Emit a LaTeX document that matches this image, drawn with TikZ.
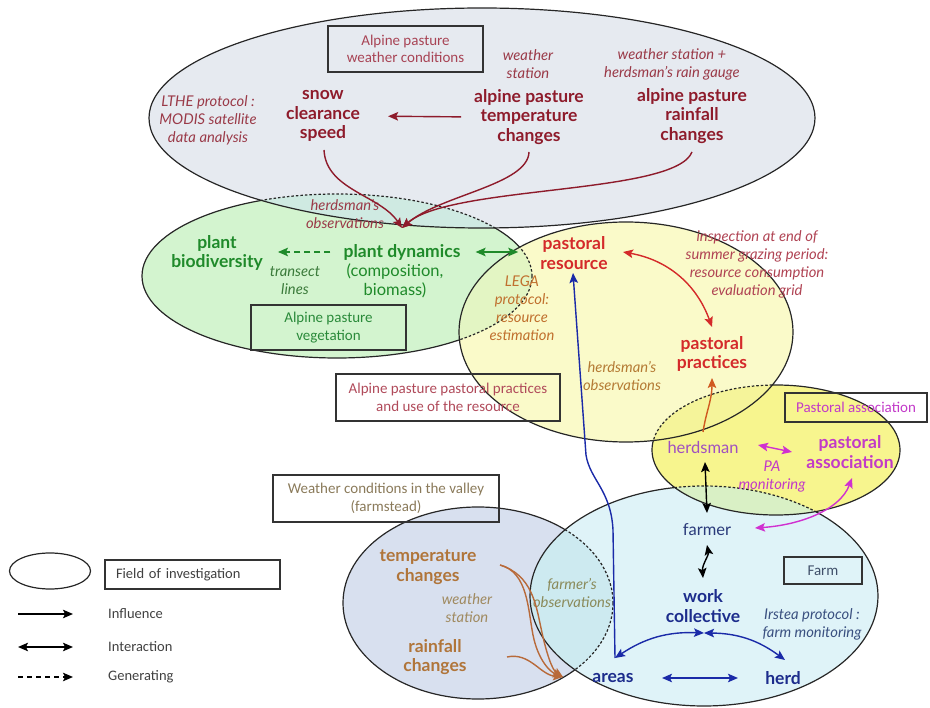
\documentclass[tikz,border=0pt]{standalone}
\usepackage{fontspec}
\setmainfont{Carlito}
\newfontfamily\lf{Lato}
\usetikzlibrary{arrows.meta,calc,shapes.geometric}
% fills
\definecolor{fGrey}{HTML}{E6EAF0}
\definecolor{fGreen}{HTML}{D3F4CF}
\definecolor{fYel}{HTML}{FAFAC9}
\definecolor{fPA}{HTML}{F7F58E}
\definecolor{fFarm}{HTML}{DFF3F8}
\definecolor{fVal}{HTML}{D8E0EF}
\definecolor{oGG}{HTML}{CFEAE2}
\definecolor{oYG}{HTML}{E3F5C3}
\definecolor{oYP}{HTML}{F5F49A}
\definecolor{oPF}{HTML}{D9F0C5}
\definecolor{oFV}{HTML}{CDEAF0}
\definecolor{oGY}{HTML}{ECEFD8}
% texts
\definecolor{cDR}{HTML}{8E1B2B}
\definecolor{cDRa}{HTML}{9A3A48}
\definecolor{cBoxR}{HTML}{A84455}
\definecolor{cG}{HTML}{1F8A2A}
\definecolor{cGa}{HTML}{3A7A3A}
\definecolor{cRR}{HTML}{D42A2A}
\definecolor{cO}{HTML}{C0702E}
\definecolor{cPk}{HTML}{B04454}
\definecolor{cO2}{HTML}{B47A34}
\definecolor{cM}{HTML}{C23AC8}
\definecolor{cMh}{HTML}{A050C0}
\definecolor{cB}{HTML}{1C2C8C}
\definecolor{cBf}{HTML}{2A3A7A}
\definecolor{cBa}{HTML}{3A5080}
\definecolor{cBar}{HTML}{1A2AA8}
\definecolor{cT}{HTML}{B0753A}
\definecolor{cTa}{HTML}{A08A60}
\definecolor{cFo}{HTML}{8A8A5A}
\definecolor{cBoxV}{HTML}{8A7A5A}
\definecolor{cBoxF}{HTML}{40506A}
\definecolor{cBoxG}{HTML}{2A8A3A}
\definecolor{cBoxP}{HTML}{B04A5A}
\definecolor{cArO}{HTML}{D05A20}
\definecolor{cArBr}{HTML}{B86A3A}
\definecolor{cArM}{HTML}{D030D0}
\definecolor{cLeg}{HTML}{404040}
\begin{document}
\begin{tikzpicture}[x=1pt,y=-1pt,>={Stealth[length=10pt,width=8.5pt,inset=2pt]}]
\tikzset{
  Egrey/.style={insert path={(482,118) ellipse [x radius=333, y radius=110]}},
  Egreen/.style={insert path={(337,276) ellipse [x radius=195, y radius=82]}},
  Eyel/.style={insert path={(626,332) ellipse [x radius=167, y radius=110]}},
  Epa/.style={insert path={(776,450) ellipse [x radius=124, y radius=65]}},
  Efarm/.style={insert path={(704,596) ellipse [x radius=174, y radius=110]}},
  Eval/.style={insert path={(478,603) ellipse [x radius=135, y radius=96]}},
  ell/.style={draw=black!85, line width=1.2pt},
  dsh/.style={dash pattern=on 2.5pt off 2pt},
  lab/.style={font=\lf\bfseries\fontsize{17.5}{19.5}\selectfont, align=center, inner sep=0pt},
  txt/.style={font=\lf\fontsize{16.5}{18.5}\selectfont, align=center, inner sep=0pt},
  ann/.style={font=\lf\itshape\fontsize{14.8}{18}\selectfont, align=center, inner sep=0pt},
  boxt/.style={draw=black!80, line width=1.3pt, font=\fontsize{15}{17.5}\selectfont, align=center, inner sep=0pt},
  arr/.style={->, line width=1.4pt},
  dbl/.style={<->, line width=1.4pt},
  legt/.style={font=\fontsize{14.5}{16}\selectfont, text=cLeg, anchor=west, inner sep=0pt},
}
\useasboundingbox (0,0) rectangle (930,708);
% ---------- ellipses (fills, overlaps, borders)
\fill[fVal, Eval]; \draw[ell, Eval];
\fill[fFarm, Efarm];
\begin{scope}\clip[Efarm]; \fill[oFV, Eval]; \draw[ell, dsh, Eval];\end{scope}
\draw[ell, Efarm];
\fill[fPA, Epa];
\begin{scope}\clip[Epa]; \fill[oPF, Efarm]; \draw[ell, dsh, Efarm];\end{scope}
\draw[ell, Epa];
\fill[fGreen, Egreen]; \draw[ell, Egreen];
\fill[fYel, Eyel];
\begin{scope}\clip[Eyel]; \fill[oYP, Epa]; \fill[oYG, Egreen]; \draw[ell, dsh, Epa]; \draw[ell, dsh, Egreen];\end{scope}
\draw[ell, Eyel];
\fill[fGrey, Egrey];
\begin{scope}\clip[Egrey]; \fill[oGG, Egreen]; \fill[oGY, Eyel]; \draw[ell, dsh, Egreen]; \draw[ell, dsh, Eyel];\end{scope}
\draw[ell, Egrey];
% ---------- boxes
\node[boxt, text=cBoxR, minimum width=155, minimum height=46] (bxw) at (405.5,49) {Alpine pasture\\weather conditions};
\node[boxt, text=cBoxG, minimum width=155, minimum height=45] (bxv) at (328.5,327.5) {Alpine pasture\\vegetation};
\node[boxt, text=cBoxP, minimum width=224, minimum height=47] (bxp) at (448,397.5) {Alpine pasture pastoral practices\\and use of the resource};
\node[boxt, text=cM, minimum width=142, minimum height=29] (bxpa) at (856,407.5) {Pastoral association};
\node[boxt, text=cBoxF, minimum width=78, minimum height=27] (bxf) at (823,570.5) {Farm};
\node[boxt, text=cBoxV, minimum width=226, minimum height=47] (bxvl) at (386,498.5) {Weather conditions in the valley\\(farmstead)};
% ---------- top: alpine weather
\node[ann, text=cDRa] (ws1) at (528,64) {weather\\station};
\node[ann, text=cDRa] (ws2) at (672,64) {weather station +\\herdsman’s rain gauge};
\node[ann, text=cDRa] (lthe) at (208,120) {LTHE protocol :\\MODIS satellite\\data analysis};
\node[lab, text=cDR] (snow) at (323,116) {snow\\clearance\\speed};
\node[lab, text=cDR] (tmp) at (529,117) {alpine pasture\\temperature\\changes};
\node[lab, text=cDR] (rain) at (692,116) {alpine pasture\\rainfall\\changes};
\node[ann, text=cDRa] (hobs1) at (345,214) {herdsman’s\\observations};
\coordinate (conv) at (402,228);
\draw[arr, cDR, shorten <=13pt, shorten >=28pt] (tmp.west) -- (snow.east);
\draw[arr, cDR] ($(snow)+(1,34)$) .. controls (326,190) and (380,195) .. (conv);
\draw[arr, cDR] ($(tmp)+(0,35)$) .. controls (528,185) and (440,195) .. (conv);
\draw[arr, cDR] ($(rain)+(0,36)$) .. controls (675,195) and (450,185) .. (conv);
% ---------- vegetation
\node[lab, text=cG] (biod) at (217,253) {plant\\biodiversity};
\node[lab, text=cG] (pdyn) at (402,252) {plant dynamics};
\node[txt, text=cG] (comp) at (395,281) {(composition,\\biomass)};
\node[ann, text=cGa] (trans) at (295,281) {transect\\lines};
\draw[arr, cG, dash pattern=on 6pt off 4pt, shorten <=13pt, shorten >=15pt] (pdyn.west) -- (biod.east |- pdyn.west);
% ---------- pastoral
\node[lab, text=cRR] (res) at (574,253) {pastoral\\resource};
\node[ann, text=cO] (lega) at (522,308) {LEGA\\protocol:\\resource\\estimation};
\node[ann, text=cPk] (insp) at (757,264) {inspection at end of\\summer grazing period:\\resource consumption\\evaluation grid};
\node[lab, text=cRR] (prac) at (712,354) {pastoral\\practices};
\node[ann, text=cO2] (hobs2) at (622,376) {herdsman’s\\observations};
\draw[dbl, cG, shorten <=15pt, shorten >=22pt] (pdyn.east) -- (res.west |- pdyn.east);
\draw[dbl, cRR] ($(res)+(49,-1)$) to[bend left=30] ($(prac)+(0,-27)$);
% ---------- pastoral association
\node[txt, text=cMh] (herdsman) at (703,447) {herdsman};
\node[lab, text=cM] (pa) at (850,452) {pastoral\\association};
\node[ann, text=cM] (pam) at (772,477) {PA\\monitoring};
\draw[dbl, cArM] ($(herdsman)+(55,-2)$) -- ($(herdsman)+(89,5)$);
\draw[arr, cArO] ($(herdsman)+(0,-15)$) .. controls (706,412) and (712,400) .. ($(prac)+(0,24)$);
% ---------- farm
\node[txt, text=cBf] (farmer) at (707,530) {farmer};
\node[lab, text=cB] (work) at (703,606) {work\\collective};
\node[ann, text=cBa] (irst) at (812,624) {Irstea protocol :\\farm monitoring};
\node[lab, text=cB] (areas) at (613,678) {areas};
\node[lab, text=cB] (herd) at (783,678) {herd};
\draw[dbl, black] ($(herdsman)+(2,15)$) -- ($(farmer)+(0,-17)$);
\draw[dbl, black] ($(farmer)+(0,15)$) .. controls (709,555) and (702,565) .. ($(work)+(0,-28)$);
\draw[dbl, cArM] ($(farmer)+(48,-2)$) .. controls (800,525) and (840,510) .. ($(pa)+(2,26)$);
\draw[dbl, cBar] ($(areas)+(49,0)$) -- ($(herd)+(-45,0)$);
\draw[dbl, cBar] ($(areas)+(2,-20)$) to[bend left=18] ($(work)+(1,27)$);
\draw[dbl, cBar] ($(work)+(1,27)$) to[bend left=18] ($(herd)+(2,-18)$);
\draw[arr, cBar] ($(areas)+(2,-20)$) -- (613,530) .. controls (611,490) and (590,480) .. (586,455) -- ($(res)+(-1,20)$);
% ---------- valley
\node[lab, text=cT] (vtemp) at (428,567) {temperature\\changes};
\node[ann, text=cTa] (vws) at (467,608) {weather\\station};
\node[lab, text=cT] (vrain) at (435,657) {rainfall\\changes};
\node[ann, text=cFo] (fobs) at (572,593) {farmer’s\\observations};
\coordinate (vconv) at (563,677);
\draw[arr, cArBr] ($(vtemp)+(72,-2)$) .. controls (528,572) and (528,610) .. (533,635) .. controls (538,660) and (550,672) .. (vconv);
\draw[arr, cArBr] ($(vtemp)+(72,-2)$) .. controls (532,575) and (536,605) .. (541,628) .. controls (546,652) and (552,670) .. (vconv);
\draw[arr, cArBr] ($(vrain)+(72,0)$) .. controls (530,652) and (540,675) .. (vconv);
% ---------- legend
\node[draw=black!85, line width=1.2pt, ellipse, minimum width=81, minimum height=36, inner sep=0pt] (lgE) at (50,571) {};
\node[draw=black!80, line width=1.3pt, minimum width=175, minimum height=29, text width=153, align=left, inner xsep=11pt, inner ysep=0pt, font=\fontsize{14.5}{16}\selectfont, text=cLeg] (lgF) at (192.5,574.5) {Field of investigation};
\coordinate (l1a) at (18,614); \coordinate (l1b) at (73,614);
\coordinate (l2a) at (18,647); \coordinate (l2b) at (73,647);
\coordinate (l3a) at (18,677); \coordinate (l3b) at (73,677);
\draw[arr, black] (l1a) -- (l1b);
\draw[dbl, black] (l2a) -- (l2b);
\draw[arr, black, dash pattern=on 5pt off 4pt] (l3a) -- (l3b);
\node[legt] (lt1) at (108,614) {Influence};
\node[legt] (lt2) at (108,647) {Interaction};
\node[legt] (lt3) at (108,677) {Generating};
\end{tikzpicture}
\end{document}
